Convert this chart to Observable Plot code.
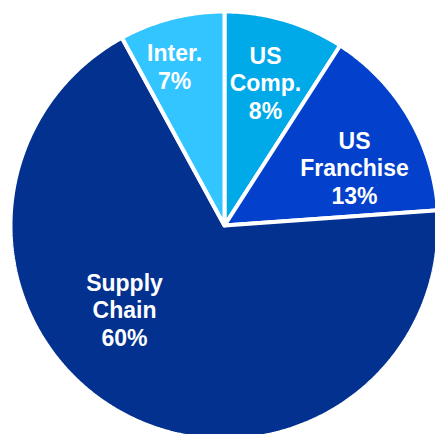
<!DOCTYPE html>
<html><head><meta charset="utf-8">
<script src="https://cdn.jsdelivr.net/npm/d3@7"></script>
<script src="https://cdn.jsdelivr.net/npm/@observablehq/plot@0.6"></script>
<style>html,body{margin:0;padding:0;background:#fff;overflow:hidden}</style>
</head><body><div id="chart"></div>
<script>
// Data
const segments = ["US Comp.", "US Franchise", "Supply Chain", "Inter."];
const shares = [8, 13, 60, 7];
const nameLabels = ["US\nComp.", "US\nFranchise", "Supply\nChain", "Inter."];
const pctLabels = ["8%", "13%", "60%", "7%"];
const colors = ["#00a9e8", "#0341cc", "#023190", "#33c5ff"];

// Label placement (angle in degrees clockwise from 12 o'clock, radius fraction)
const labelLayout = {
  "US Comp.": [16, 0.695],
  "US Franchise": [66, 0.665],
  "Supply Chain": [230, 0.61],
  "Inter.": [342.6, 0.78]
};

const rows = segments.map((s, i) => ({segment: s, share: shares[i], name: nameLabels[i], pct: pctLabels[i]}));
const arcs = d3.pie().sort(null).value(d => d.share)(rows);

const points = [];
for (const a of arcs) {
  const seg = a.data.segment;
  points.push({segment: seg, x: 0, y: 0});
  const n = Math.max(2, Math.ceil((a.endAngle - a.startAngle) / 0.01));
  for (let k = 0; k <= n; k++) {
    const t = a.startAngle + (a.endAngle - a.startAngle) * k / n;
    points.push({segment: seg, x: Math.sin(t), y: Math.cos(t)});
  }
  points.push({segment: seg, x: 0, y: 0});
}

const labels = rows.map(r => {
  const [deg, rf] = labelLayout[r.segment];
  const t = deg * Math.PI / 180;
  return {segment: r.segment, text: r.name + "\n" + r.pct, x: rf * Math.sin(t), y: rf * Math.cos(t)};
});

const chart = Plot.plot({
  width: 435,
  height: 434,
  margin: 0,
  style: {background: "white", overflow: "hidden"},
  x: {domain: [-1, 1], range: [10, 438], axis: null},
  y: {domain: [-1, 1], range: [439, 11], axis: null},
  color: {domain: segments, range: colors},
  marks: [
    Plot.line(points, {x: "x", y: "y", z: "segment", fill: "segment", stroke: "white", strokeWidth: 4, strokeLinejoin: "miter", curve: "linear"}),
    Plot.text(labels, {x: "x", y: "y", text: "text", fill: "white", fontSize: 23, fontWeight: "bold",
      fontFamily: "'Liberation Sans', Arial, sans-serif", lineHeight: 1.2, textAnchor: "middle"})
  ]
});
document.getElementById("chart").appendChild(chart);
</script>
</body></html>
